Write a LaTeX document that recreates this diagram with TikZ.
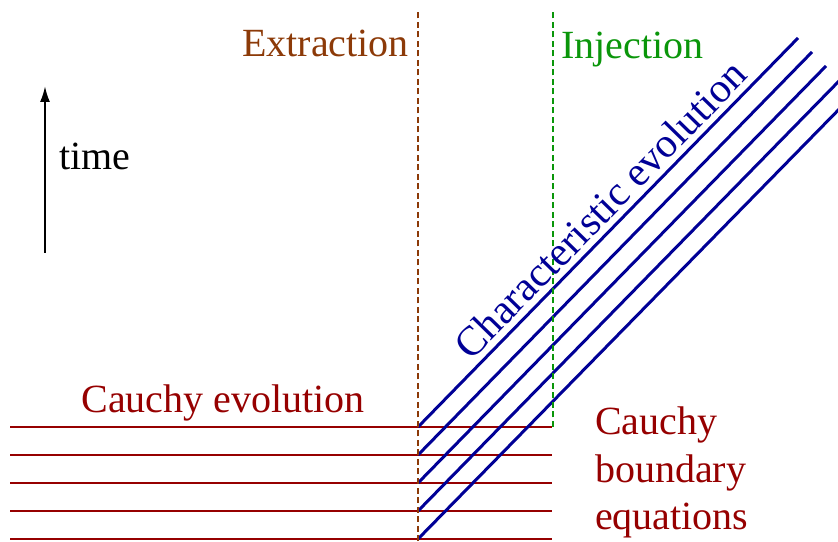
\documentclass[tikz,border=0pt]{standalone}
\usepackage{fontspec}
\setmainfont{Liberation Serif}
\usetikzlibrary{arrows.meta}
\definecolor{cauchyred}{RGB}{150,0,0}
\definecolor{extrbrown}{RGB}{140,58,8}
\definecolor{injgreen}{RGB}{10,150,10}
\definecolor{charblue}{RGB}{0,0,150}
\tikzset{
  cauchyline/.style={cauchyred, line width=2.8pt},
  charline/.style={charblue, line width=3pt},
  worldtube/.style={line width=2.5pt, dash pattern=on 6pt off 3.5pt},
  label/.style={inner sep=0pt, font=\fontsize{40}{47.5}\selectfont}
}
\begin{document}
\begin{tikzpicture}[x=1pt, y=1pt]
    \useasboundingbox (0,0) rectangle (838,541);
    % Superfici di Cauchy
    \foreach \i in {0,1,...,4} {
      \pgfmathsetmacro{\y}{2+28*\i}
      \draw[cauchyline] (10,\y) -- (552,\y);
    }
    % Coni caratteristici, tagliati al bordo
    \begin{scope}
      \clip (0,0) rectangle (838,541);
      \foreach \i in {0,1,...,4} {
        \pgfmathsetmacro{\y}{2+28*\i}
        \pgfmathsetmacro{\xe}{854-14*\i}
        \pgfmathsetmacro{\ye}{447+14*\i}
        \draw[charline] (418,\y) -- (\xe,\ye);
      }
    \end{scope}
    % Estrazione / iniezione
    \draw[worldtube, extrbrown] (418,0) -- (418,531);
    \draw[worldtube, injgreen] (553,114) -- (553,531);
    % Freccia del tempo
    \coordinate (t0) at (45,288);
    \coordinate (t1) at (45,455);
    \draw[-{Latex[length=16pt, width=10pt]}, line width=2pt] (t0) -- (t1);
    % Etichette
    \node[label, anchor=base east, extrbrown] (extr) at (409,484) {Extraction};
    \node[label, anchor=base west, injgreen] (inj) at (561,482) {Injection};
    \node[label, anchor=base west] (time) at (59,371) {time};
    \node[label, anchor=base, cauchyred] (cev) at (223,128) {Cauchy evolution};
    \node[label, anchor=north west, align=left, cauchyred] (cbe) at (595,134)
      {Cauchy\\boundary\\equations};
    \coordinate (c0) at (418,114);
    \coordinate (c1) at (798,503);
    \path (c0) -- (c1) node[label, font=\fontsize{41.5}{48}\selectfont, pos=0.52,
      sloped, above, inner sep=7pt, charblue] (chev) {Characteristic evolution};
\end{tikzpicture}
\end{document}
